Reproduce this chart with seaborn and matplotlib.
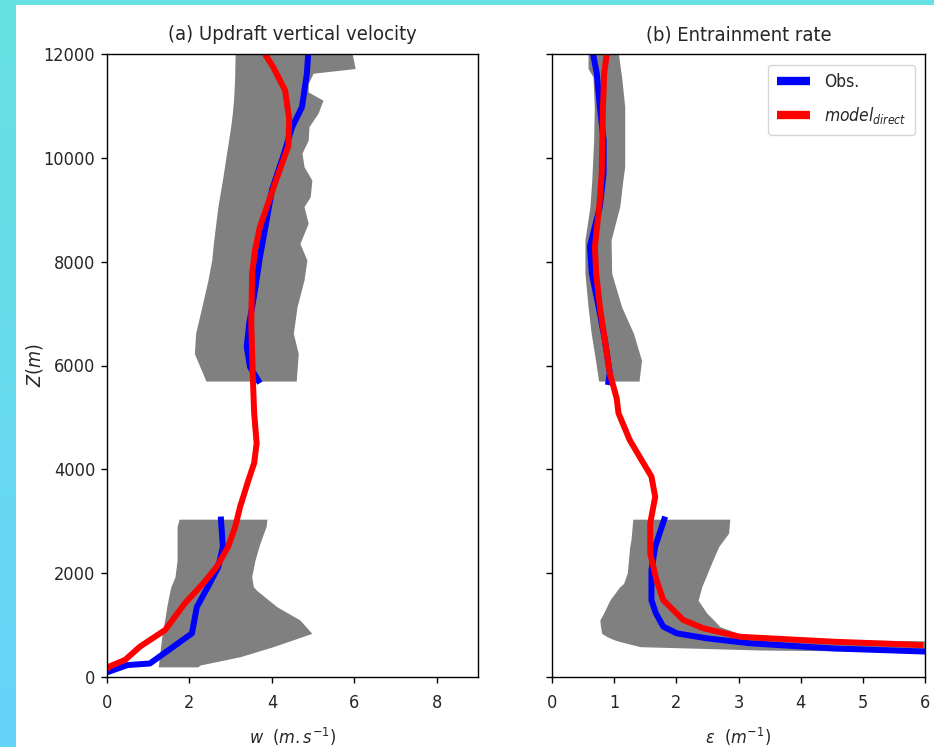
import matplotlib
matplotlib.use("Agg")
import matplotlib.pyplot as plt
from matplotlib import font_manager as fm
from matplotlib.colors import LinearSegmentedColormap
import numpy as np
import pandas as pd
import seaborn as sns

# ---------------- data ----------------
# (a) updraft vertical velocity
obs_w_up_z = [12000, 11630, 10980, 10590, 10020, 9380, 8740, 8090, 7450, 6810, 6360, 5970, 5660]
obs_w_up = [4.88, 4.85, 4.73, 4.49, 4.27, 4.00, 3.86, 3.71, 3.59, 3.45, 3.39, 3.47, 3.71]
obs_w_lo_z = [3090, 2510, 2120, 1740, 1350, 840, 260, 230, 90]
obs_w_lo = [2.76, 2.81, 2.70, 2.45, 2.18, 2.06, 1.04, 0.50, 0.0]
mod_w_z = [12000, 11750, 11300, 10750, 10230, 9700, 9060, 8670, 8220, 7770, 6810, 5720,
           5080, 4500, 4120, 3790, 3280, 2895, 2510, 2120, 1800, 1420, 905, 585, 330, 200, 140]
mod_w = [3.83, 4.03, 4.32, 4.42, 4.40, 4.16, 3.88, 3.71, 3.59, 3.52, 3.50, 3.54,
         3.57, 3.63, 3.57, 3.43, 3.23, 3.11, 2.94, 2.66, 2.33, 1.89, 1.41, 0.80, 0.44, 0.05, 0.0]
env_w_up_z = [12000, 11720, 11630, 11430, 11270, 11110, 10860, 10600, 10340, 10090, 9830,
              9570, 9250, 9060, 8740, 8350, 8030, 7650, 7130, 6620, 6230, 5700]
env_w_up_lo = [3.11, 3.10, 3.10, 3.09, 3.08, 3.07, 3.04, 3.00, 2.95, 2.90, 2.85,
               2.80, 2.73, 2.69, 2.64, 2.58, 2.54, 2.45, 2.30, 2.15, 2.12, 2.40]
env_w_up_hi = [5.95, 6.02, 5.00, 4.88, 4.88, 5.24, 5.12, 4.90, 4.88, 4.73, 4.78,
               4.97, 4.93, 4.78, 4.88, 4.68, 4.85, 4.78, 4.61, 4.52, 4.64, 4.59]
env_w_lo_z = [3040, 2900, 2575, 2250, 1930, 1740, 1676, 1354, 1098, 841, 584, 391, 231, 195]
env_w_lo_lo = [1.75, 1.70, 1.70, 1.70, 1.65, 1.55, 1.53, 1.45, 1.40, 1.34, 1.30, 1.27, 1.25, 1.24]
env_w_lo_hi = [3.88, 3.86, 3.71, 3.59, 3.51, 3.55, 3.62, 4.12, 4.68, 4.97, 4.03, 3.23, 2.26, 2.20]

# (b) entrainment rate
obs_e_up_z = [12000, 11630, 10980, 10340, 9700, 9060, 8290, 7775, 7130, 6490, 5850, 5625]
obs_e_up = [0.66, 0.72, 0.77, 0.83, 0.83, 0.77, 0.61, 0.64, 0.75, 0.85, 0.93, 0.90]
obs_e_lo_z = [3090, 2510, 2060, 1480, 1230, 970, 840, 745, 650, 550, 490]
obs_e_lo = [1.82, 1.66, 1.60, 1.60, 1.67, 1.79, 2.01, 2.49, 3.18, 4.52, 6.0]
mod_e_z = [12000, 11630, 10980, 10340, 9700, 9060, 8290, 7775, 7130, 6490, 5850, 5370,
           5080, 4565, 4180, 3860, 3470, 2960, 2380, 1870, 1480, 1100, 940, 775, 680, 615]
mod_e = [0.88, 0.84, 0.82, 0.81, 0.80, 0.76, 0.69, 0.71, 0.77, 0.85, 0.93, 1.04,
         1.07, 1.25, 1.44, 1.60, 1.66, 1.58, 1.58, 1.68, 1.79, 2.11, 2.43, 3.02, 4.52, 5.97]
env_e_up_z = [12000, 11720, 11560, 10980, 10340, 9830, 9570, 9060, 8420, 7775, 7130, 6620, 6100, 5700]
env_e_up_lo = [0.58, 0.58, 0.66, 0.68, 0.67, 0.65, 0.64, 0.61, 0.53, 0.53, 0.58, 0.63, 0.70, 0.75]
env_e_up_hi = [1.07, 1.10, 1.12, 1.17, 1.17, 1.17, 1.14, 1.09, 0.95, 0.96, 1.12, 1.31, 1.44, 1.40]
env_e_lo_z = [3040, 2770, 2640, 2510, 2120, 2000, 1800, 1740, 1480, 1230, 1100, 970, 840, 780, 720, 680, 584, 520, 488]
env_e_lo_lo = [1.30, 1.28, 1.27, 1.25, 1.22, 1.21, 1.15, 1.09, 0.93, 0.83, 0.77, 0.78, 0.80, 0.88, 0.99, 1.10, 1.42, 3.35, 6.0]
env_e_lo_hi = [2.86, 2.84, 2.76, 2.68, 2.54, 2.50, 2.43, 2.41, 2.35, 2.49, 2.60, 2.70, 3.00, 3.30, 4.60, 7.0, 7.0, 7.0, 7.0]

titles = ["(a) Updraft vertical velocity", "(b) Entrainment rate"]
xlabels = [r"$w$  $(m.s^{-1})$", r"$\epsilon$  $(m^{-1})$"]
ylabel = r"$Z(m)$"
series_names = ["Obs.", r"$model_{direct}$"]
w_ticks = [0, 2, 4, 6, 8]
e_ticks = [0, 1, 2, 3, 4, 5, 6]
z_ticks = [0, 2000, 4000, 6000, 8000, 10000, 12000]

# ---------------- style ----------------
sns.set_style("ticks")
path = fm.findfont(fm.FontProperties(family="DejaVu Sans", stretch="condensed"))
cfam = "DejaVu Sans"
cstretch = "condensed" if "Condensed" in path else "normal"
plt.rcParams["font.family"] = [cfam]
plt.rcParams["font.stretch"] = cstretch
plt.rcParams["mathtext.fontset"] = "custom"
plt.rcParams["mathtext.rm"] = f"{cfam}:stretch={cstretch}"
plt.rcParams["mathtext.it"] = f"{cfam}:style=oblique:stretch={cstretch}"
plt.rcParams["mathtext.bf"] = f"{cfam}:weight=bold:stretch={cstretch}"

FS_T = 14.5
FS_TICK = 13
FS_LAB = 13
FS_LEG = 12.5

fig = plt.figure(figsize=(9.34, 7.47), dpi=100)
fig.patch.set_facecolor("white")

# cyan frame
bg_left = fig.add_axes([0, 0, 16 / 934, 1])
grad = np.linspace(0, 1, 256).reshape(-1, 1)
cm = LinearSegmentedColormap.from_list("cy", ["#66e0e0", "#66d4fa"])
bg_left.imshow(grad, aspect="auto", cmap=cm, extent=[0, 1, 0, 1], origin="upper")
bg_left.axis("off")
bg_top = fig.add_axes([0, 1 - 5 / 747, 1, 5 / 747])
bg_top.set_facecolor("#66e0e0")
bg_top.set_xticks([]); bg_top.set_yticks([])
for s in bg_top.spines.values():
    s.set_visible(False)

axL = fig.add_axes([107 / 934, 70 / 747, 371 / 934, 623 / 747])
axR = fig.add_axes([552 / 934, 70 / 747, 373 / 934, 623 / 747], sharey=axL)

BLUE = "#0000ff"
RED = "#ff0000"
GRAY = "#808080"
LW = 4.3


def line(ax, x, z, color, label=None):
    df = pd.DataFrame({"x": x, "z": z})
    sns.lineplot(data=df, x="x", y="z", sort=False, estimator=None, orient="y",
                 color=color, lw=LW, ax=ax, label=label, legend=False,
                 solid_capstyle="butt")


# panel a
axL.fill_betweenx(env_w_up_z, env_w_up_lo, env_w_up_hi, color=GRAY, lw=0)
axL.fill_betweenx(env_w_lo_z, env_w_lo_lo, env_w_lo_hi, color=GRAY, lw=0)
line(axL, obs_w_up, obs_w_up_z, BLUE)
line(axL, obs_w_lo, obs_w_lo_z, BLUE)
line(axL, mod_w, mod_w_z, RED)

# panel b
axR.fill_betweenx(env_e_up_z, env_e_up_lo, env_e_up_hi, color=GRAY, lw=0)
axR.fill_betweenx(env_e_lo_z, env_e_lo_lo, env_e_lo_hi, color=GRAY, lw=0)
line(axR, obs_e_up, obs_e_up_z, BLUE, label=series_names[0])
line(axR, obs_e_lo, obs_e_lo_z, BLUE)
line(axR, mod_e, mod_e_z, RED, label=series_names[1])

axL.set_xlim(0, 9)
axR.set_xlim(0, 6)
axL.set_ylim(0, 12000)
axL.set_xticks(w_ticks)
axR.set_xticks(e_ticks)
axL.set_yticks(z_ticks)

for ax, t, xl in zip([axL, axR], titles, xlabels):
    ax.set_title(t, fontsize=FS_T, pad=10)
    ax.set_xlabel(xl, fontsize=FS_LAB, labelpad=10)
    ax.tick_params(axis="both", labelsize=FS_TICK, length=4, width=1, direction="out", color="black")
    ax.tick_params(axis="x", pad=8)
    ax.tick_params(axis="y", pad=4.5)
    for s in ax.spines.values():
        s.set_visible(True)
        s.set_color("black")
        s.set_linewidth(1.0)
    ax.set_facecolor("white")

axL.set_ylabel(ylabel, fontsize=FS_LAB + 1)
axL.yaxis.set_label_coords(-0.166, 0.5)
axR.set_ylabel("")
axR.tick_params(axis="y", labelleft=False)

leg = axR.legend(loc="upper right", fontsize=FS_LEG, handlelength=1.9, framealpha=0.8,
                 edgecolor="#cccccc", borderpad=0.5, labelspacing=0.8,
                 bbox_to_anchor=(0.997, 0.997))
for h in leg.get_lines():
    h.set_linewidth(6)
    h.set_solid_capstyle("butt")

fig.savefig("out.png", dpi=100)
